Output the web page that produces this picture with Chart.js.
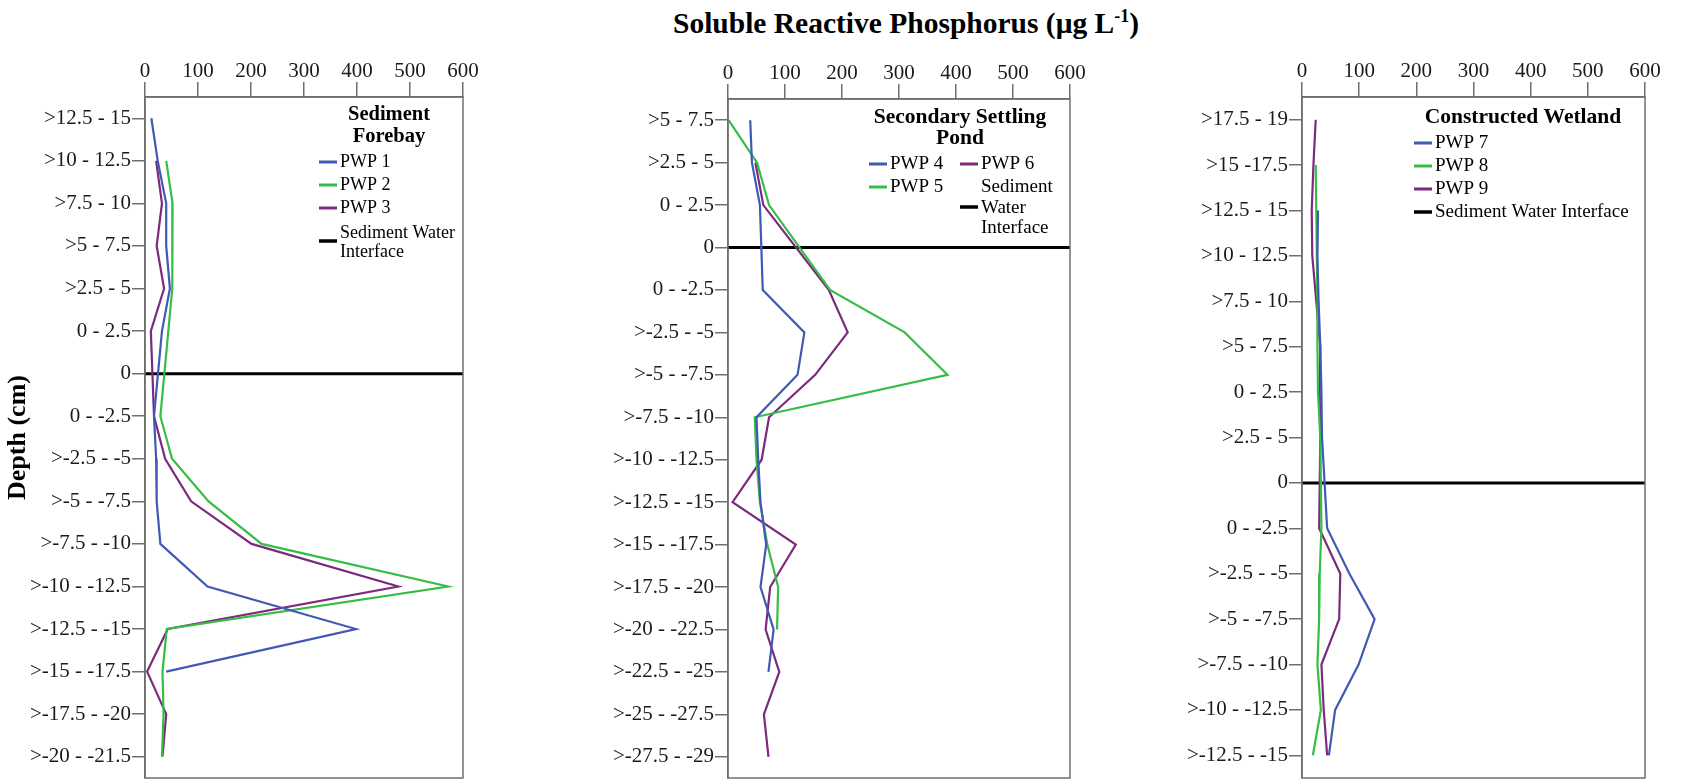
<!DOCTYPE html>
<html>
<head>
<meta charset="utf-8">
<script src="https://cdn.jsdelivr.net/npm/chart.js@4.4.1/dist/chart.umd.min.js"></script>
<style>
  body { margin: 0; background: #fff; width: 1706px; height: 780px; overflow: hidden; position: relative; }
  #title { position: absolute; left: 406px; top: 9px; width: 1000px; text-align: center;
           font: bold 29.5px/29.5px "Liberation Serif", "Times New Roman", serif; color: #000; }
  #title sup { font-size: 18px; vertical-align: 11px; line-height: 0; }
  .panel { position: absolute; top: 0; }
</style>
</head>
<body>
<div id="title">Soluble Reactive Phosphorus (μg L<sup>-1</sup>)</div>
<div class="panel" style="left:0px"><canvas id="forebay" width="480" height="780"></canvas></div>
<div class="panel" style="left:580px"><canvas id="pond" width="510" height="780"></canvas></div>
<div class="panel" style="left:1160px"><canvas id="wetland" width="505" height="780"></canvas></div>
<script>
// depth classes (cm), top of core first
const forebayDepths = ['>12.5 - 15', '>10 - 12.5', '>7.5 - 10', '>5 - 7.5', '>2.5 - 5', '0 - 2.5', '0',
  '0 - -2.5', '>-2.5 - -5', '>-5 - -7.5', '>-7.5 - -10', '>-10 - -12.5', '>-12.5 - -15',
  '>-15 - -17.5', '>-17.5 - -20', '>-20 - -21.5'];
const pondDepths = ['>5 - 7.5', '>2.5 - 5', '0 - 2.5', '0', '0 - -2.5', '>-2.5 - -5', '>-5 - -7.5',
  '>-7.5 - -10', '>-10 - -12.5', '>-12.5 - -15', '>-15 - -17.5', '>-17.5 - -20', '>-20 - -22.5',
  '>-22.5 - -25', '>-25 - -27.5', '>-27.5 - -29'];
const wetlandDepths = ['>17.5 - 19', '>15 -17.5', '>12.5 - 15', '>10 - 12.5', '>7.5 - 10', '>5 - 7.5',
  '0 - 2.5', '>2.5 - 5', '0', '0 - -2.5', '>-2.5 - -5', '>-5 - -7.5', '>-7.5 - -10', '>-10 - -12.5',
  '>-12.5 - -15'];

// SRP, ug/L (null = no sample)
const pwp1 = [12, 24, 40, 40, 47, 32, null, 17, 21, 22, 29, 118, 398, 40, null, null];
const pwp2 = [null, 40, 52, 52, 51, 44, null, 29, 51, 120, 220, 572, 41, 33, 35, 32];
const pwp3 = [null, 21, 32, 22, 36, 11, null, 17, 38, 87, 201, 478, 43, 4, 40, 33];

const pwp4 = [39, 42, 56, null, 61, 134, 122, 50, 53, 57, 67, 57, 80, 71, null, null];
const pwp5 = [1, 51, 72, null, 179, 310, 385, 47, 50, 56, 69, 88, 86, null, null, null];
const pwp6 = [null, 48, 62, null, 177, 210, 153, 72, 59, 8, 119, 74, 66, 90, 63, 71];

const pwp7 = [null, null, 28, 27, 29, 32, 34, 35, null, 44, 83, 127, 99, 58, 47];
const pwp8 = [null, 24, 25, 26, 27, 27, 28, 32, null, 34, 31, 30, 27, 33, 19];
const pwp9 = [24, 20, 17, 18, 25, 32, 31, 32, null, 30, 67, 65, 34, 38, 44];

const interfaceDepth = '0';
const srpRange = [0, 600];

const BLUE = '#4059b5', GREEN = '#35bd45', PURPLE = '#7b2a7d';
const AXIS = '#6f6f6f';
const FONT = '"Liberation Serif", "Times New Roman", serif';

// grey box round the plot area
const frame = {
  id: 'frame',
  afterDatasetsDraw(chart) {
    const a = chart.chartArea, ctx = chart.ctx;
    ctx.save();
    ctx.strokeStyle = AXIS;
    ctx.lineWidth = 1.5;
    ctx.strokeRect(a.left, a.top, a.right - a.left, a.bottom - a.top);
    ctx.restore();
  }
};

// in-plot legend, laid out like the original figure
const panelLegend = {
  id: 'panelLegend',
  afterDraw(chart, args, o) {
    const ctx = chart.ctx;
    ctx.save();
    ctx.fillStyle = '#000';
    ctx.textBaseline = 'middle';
    ctx.textAlign = 'center';
    ctx.font = 'bold ' + o.titleSize + 'px ' + FONT;
    o.title.forEach((t, i) => ctx.fillText(t, o.titleX - o.ox, o.titleY[i]));
    ctx.textAlign = 'left';
    ctx.font = o.size + 'px ' + FONT;
    chart.data.datasets.forEach((ds, i) => {
      const it = o.items[i];
      ctx.strokeStyle = ds.borderColor;
      ctx.lineWidth = i === chart.data.datasets.length - 1 ? 3.5 : 3;
      ctx.beginPath();
      ctx.moveTo(it.x - o.ox, it.my);
      ctx.lineTo(it.x + 18 - o.ox, it.my);
      ctx.stroke();
      const words = ds.label.split(' ');
      let k = 0;
      it.split.forEach((n, j) => {
        ctx.fillText(words.slice(k, k + n).join(' '), it.x + 21 - o.ox, it.ty[j]);
        k += n;
      });
    });
    ctx.restore();
  }
};

function series(label, data, color) {
  return { label: label, data: data, borderColor: color, backgroundColor: color,
           borderWidth: 2.2, pointRadius: 0, spanGaps: true, tension: 0 };
}

function makeChart(id, depths, sets, cfg) {
  const interfaceLine = {
    label: 'Sediment Water Interface',
    data: [{ x: srpRange[0], y: interfaceDepth }, { x: srpRange[1], y: interfaceDepth }],
    borderColor: '#000', backgroundColor: '#000', borderWidth: 3, pointRadius: 0
  };
  return new Chart(document.getElementById(id), {
    type: 'line',
    data: { labels: depths, datasets: sets.concat([interfaceLine]) },
    options: {
      indexAxis: 'y',
      responsive: false,
      animation: false,
      layout: { padding: cfg.padding },
      plugins: {
        legend: { display: false },
        tooltip: { enabled: false },
        panelLegend: cfg.legend
      },
      scales: {
        x: {
          type: 'linear', position: 'top', min: srpRange[0], max: srpRange[1],
          ticks: { stepSize: 100, color: '#1a1a1a', padding: -2, font: { family: FONT, size: 21 } },
          grid: { drawOnChartArea: false, tickLength: 15, color: AXIS, lineWidth: 1.5 },
          border: { color: AXIS, width: 1.5 },
          afterFit(s) { s.height = cfg.top; s.paddingLeft = 0; s.paddingRight = 0; }
        },
        y: {
          type: 'category', offset: true,
          ticks: { color: '#1a1a1a', padding: 1, autoSkip: false, font: { family: FONT, size: 21 } },
          grid: { drawOnChartArea: false, tickLength: 13, color: AXIS, lineWidth: 1.5 },
          border: { color: AXIS, width: 1.5 },
          title: cfg.yTitle ? { display: true, text: 'Depth (cm)', color: '#000', padding: 0,
                                font: { family: FONT, size: 26, weight: 'bold' } } : { display: false },
          afterFit(s) { s.width = cfg.yWidth; s.paddingTop = 0; s.paddingBottom = 0; }
        }
      }
    },
    plugins: [frame, panelLegend]
  });
}

makeChart('forebay', forebayDepths,
  [series('PWP 1', pwp1, BLUE), series('PWP 2', pwp2, GREEN), series('PWP 3', pwp3, PURPLE)],
  {
    padding: { left: 3, right: 17, top: 0, bottom: 2 }, top: 97, yWidth: 142, yTitle: true,
    legend: {
      ox: 0, title: ['Sediment', 'Forebay'], titleX: 389, titleY: [115, 137], titleSize: 20.5, size: 18,
      items: [
        { x: 319, my: 162, ty: [162], split: [2] },
        { x: 319, my: 185, ty: [185], split: [2] },
        { x: 319, my: 208, ty: [208], split: [2] },
        { x: 319, my: 241, ty: [233, 252], split: [2, 1] }
      ]
    }
  });

makeChart('pond', pondDepths,
  [series('PWP 4', pwp4, BLUE), series('PWP 5', pwp5, GREEN), series('PWP 6', pwp6, PURPLE)],
  {
    padding: { left: 5, right: 20, top: 0, bottom: 2 }, top: 99, yWidth: 143,
    legend: {
      ox: 580, title: ['Secondary Settling', 'Pond'], titleX: 960, titleY: [117, 138], titleSize: 21.5, size: 19,
      items: [
        { x: 869, my: 164, ty: [164], split: [2] },
        { x: 869, my: 187, ty: [187], split: [2] },
        { x: 960, my: 164, ty: [164], split: [2] },
        { x: 960, my: 207, ty: [187, 208, 228], split: [1, 1, 1] }
      ]
    }
  });

makeChart('wetland', wetlandDepths,
  [series('PWP 7', pwp7, BLUE), series('PWP 8', pwp8, GREEN), series('PWP 9', pwp9, PURPLE)],
  {
    padding: { left: 5, right: 20, top: 0, bottom: 2 }, top: 97, yWidth: 137,
    legend: {
      ox: 1160, title: ['Constructed Wetland'], titleX: 1523, titleY: [117], titleSize: 21.5, size: 19,
      items: [
        { x: 1414, my: 143, ty: [143], split: [2] },
        { x: 1414, my: 166, ty: [166], split: [2] },
        { x: 1414, my: 189, ty: [189], split: [2] },
        { x: 1414, my: 212, ty: [212], split: [3] }
      ]
    }
  });
</script>
</body>
</html>
